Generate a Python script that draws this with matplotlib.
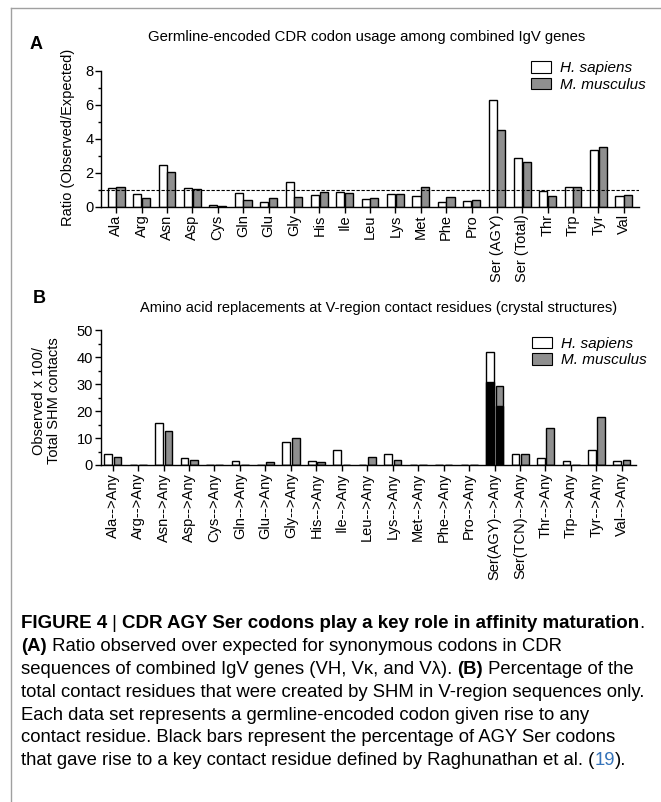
import numpy as np
import matplotlib
matplotlib.use('Agg')
import matplotlib.pyplot as plt
from matplotlib.patches import Patch
from matplotlib.lines import Line2D
from matplotlib.ticker import MultipleLocator

plt.rcParams['font.family'] = ['Liberation Sans', 'DejaVu Sans']

# ---- data, panel A ----
codons_a = ['Ala', 'Arg', 'Asn', 'Asp', 'Cys', 'Gln', 'Glu', 'Gly', 'His', 'Ile',
            'Leu', 'Lys', 'Met', 'Phe', 'Pro', 'Ser (AGY)', 'Ser (Total)', 'Thr',
            'Trp', 'Tyr', 'Val']
ratio_human = [1.10, 0.76, 2.43, 1.08, 0.07, 0.83, 0.25, 1.43, 0.68, 0.87,
               0.47, 0.73, 0.65, 0.27, 0.35, 6.28, 2.88, 0.90, 1.18, 3.35, 0.65]
ratio_mouse = [1.15, 0.49, 2.04, 1.05, 0.05, 0.37, 0.49, 0.55, 0.85, 0.80,
               0.53, 0.73, 1.18, 0.58, 0.42, 4.53, 2.63, 0.62, 1.18, 3.49, 0.68]

# ---- data, panel B ----
codons_b = ['Ala-->Any', 'Arg-->Any', 'Asn-->Any', 'Asp-->Any', 'Cys-->Any',
            'Gln-->Any', 'Glu-->Any', 'Gly-->Any', 'His-->Any', 'Ile-->Any',
            'Leu-->Any', 'Lys-->Any', 'Met-->Any', 'Phe-->Any', 'Pro-->Any',
            'Ser(AGY)-->Any', 'Ser(TCN)-->Any', 'Thr-->Any', 'Trp-->Any',
            'Tyr-->Any', 'Val-->Any']
contact_human = [4.1, 0, 15.4, 2.75, 0, 1.4, 0, 8.4, 1.4, 5.5,
                 0, 4.25, 0, 0, 0, 42.0, 4.25, 2.75, 1.4, 5.5, 1.4]
contact_mouse = [2.85, 0, 12.7, 1.9, 0, 0, 1.1, 9.9, 1.0, 0,
                 2.9, 1.9, 0, 0, 0, 29.3, 4.0, 13.75, 0, 17.9, 1.75]
# key contact residues from AGY Ser codons (black bars)
key_human = [0, 0, 0, 0, 0, 0, 0, 0, 0, 0,
             0, 0, 0, 0, 0, 30.7, 0, 0, 0, 0, 0]
key_mouse = [0, 0, 0, 0, 0, 0, 0, 0, 0, 0,
             0, 0, 0, 0, 0, 21.7, 0, 0, 0, 0, 0]

gray = '#8f8f8f'
fig = plt.figure(figsize=(6.61, 8.02), dpi=100)

# frame lines around figure
fig.add_artist(Line2D([0.0166, 0.0166], [0, 0.990], color='#a0a0a0', lw=1.0, transform=fig.transFigure))
fig.add_artist(Line2D([0.0166, 1.0], [0.990, 0.990], color='#a0a0a0', lw=1.0, transform=fig.transFigure))


def style_axes(ax):
    for s in ['top', 'right']:
        ax.spines[s].set_visible(False)
    for s in ['left', 'bottom']:
        ax.spines[s].set_linewidth(1.0)
    ax.tick_params(axis='both', which='major', length=4, width=1.0, labelsize=10.5, pad=1.5)
    ax.tick_params(axis='y', which='minor', length=2.5, width=1.0)
    ax.tick_params(axis='x', which='minor', length=0)


# ---- panel A ----
axA = fig.add_axes([0.1528, 0.7423, 0.814, 0.1696])
x = np.arange(len(codons_a))
w = 0.32
axA.bar(x - 0.17, ratio_human, w, color='white', edgecolor='black', lw=1.0)
axA.bar(x + 0.17, ratio_mouse, w, color=gray, edgecolor='black', lw=1.0)
axA.axhline(1.0, color='black', lw=0.8, ls=(0, (3, 1.5)))
axA.set_xlim(-0.6, 20.6)
axA.set_ylim(0, 8)
axA.yaxis.set_major_locator(MultipleLocator(2))
axA.yaxis.set_minor_locator(MultipleLocator(1))
axA.set_xticks(x)
axA.set_xticklabels(codons_a, rotation=90)
style_axes(axA)
axA.legend(handles=[Patch(facecolor='white', edgecolor='black', lw=0.8),
                    Patch(facecolor=gray, edgecolor='black', lw=0.8)],
           labels=['H. sapiens', 'M. musculus'], loc='upper left',
           bbox_to_anchor=(0.80, 1.07), frameon=False, borderpad=0, borderaxespad=0,
           handlelength=1.3, handleheight=0.8, handletextpad=0.6, labelspacing=0.15,
           prop={'style': 'italic', 'size': 11})

fig.text(0.554, 0.954, 'Germline-encoded CDR codon usage among combined IgV genes',
         ha='center', va='center', fontsize=10.75)
fig.text(0.054, 0.944, 'A', ha='center', va='center', fontsize=13, fontweight='bold')
fig.text(0.103, 1 - 137 / 802, 'Ratio (Observed/Expected)', rotation=90,
         ha='center', va='center', fontsize=10.5)

# ---- panel B ----
axB = fig.add_axes([0.1523, 0.4202, 0.81, 0.1683])
x = np.arange(len(codons_b))
w = 0.30
axB.bar(x - 0.18, contact_human, w, color='white', edgecolor='black', lw=1.0)
axB.bar(x + 0.19, contact_mouse, w, color=gray, edgecolor='black', lw=1.0)
axB.bar(x - 0.18, key_human, w, color='black', edgecolor='black', lw=1.0)
axB.bar(x + 0.19, key_mouse, w, color='black', edgecolor='black', lw=1.0)
axB.set_xlim(-0.47, 20.56)
axB.set_ylim(0, 50)
axB.yaxis.set_major_locator(MultipleLocator(10))
axB.yaxis.set_minor_locator(MultipleLocator(5))
axB.set_xticks(x)
axB.set_xticklabels(codons_b, rotation=90)
style_axes(axB)
axB.legend(handles=[Patch(facecolor='white', edgecolor='black', lw=0.8),
                    Patch(facecolor=gray, edgecolor='black', lw=0.8)],
           labels=['H. sapiens', 'M. musculus'], loc='upper left',
           bbox_to_anchor=(0.805, 0.95), frameon=False, borderpad=0, borderaxespad=0,
           handlelength=1.3, handleheight=0.8, handletextpad=0.6, labelspacing=0.15,
           prop={'style': 'italic', 'size': 11})

fig.text(0.572, 1 - 308 / 802,
         'Amino acid replacements at V-region contact residues (crystal structures)',
         ha='center', va='center', fontsize=10.5)
fig.text(0.059, 1 - 298 / 802, 'B', ha='center', va='center', fontsize=13, fontweight='bold')
fig.text(0.070, 1 - 401 / 802, 'Observed x 100/\nTotal SHM contacts', rotation=90,
         ha='center', va='center', fontsize=10.5, linespacing=1.1)

# ---- caption ----
blue = '#3573b9'
caption = [
    [('FIGURE 4', 'bold', 'black'), (' | ', 'normal', 'black'),
     ('CDR AGY Ser codons play a key role in affinity maturation', 'bold', 'black'),
     ('.', 'normal', 'black')],
    [('(A)', 'bold', 'black'),
     (' Ratio observed over expected for synonymous codons in CDR', 'normal', 'black')],
    [('sequences of combined IgV genes (VH, V\u03ba, and V\u03bb). ', 'normal', 'black'),
     ('(B)', 'bold', 'black'), (' Percentage of the', 'normal', 'black')],
    [('total contact residues that were created by SHM in V-region sequences only.', 'normal', 'black')],
    [('Each data set represents a germline-encoded codon given rise to any', 'normal', 'black')],
    [('contact residue. Black bars represent the percentage of AGY Ser codons', 'normal', 'black')],
    [('that gave rise to a key contact residue defined by Raghunathan et al. (', 'normal', 'black'),
     ('19', 'normal', blue), (').', 'normal', 'black')],
]
fig.canvas.draw()
renderer = fig.canvas.get_renderer()
y0 = 624.0
for i, line in enumerate(caption):
    xpix = 21.0
    ypix = 802 - (y0 + i * 22.8)
    for txt, weight, col in line:
        size = 13.5 if weight == 'bold' and i == 0 else 13.3
        t = fig.text(xpix / 661, ypix / 802, txt, ha='left', va='center',
                     fontsize=size, fontweight=weight, color=col)
        bb = t.get_window_extent(renderer)
        xpix += bb.width

fig.savefig('out.png', dpi=100)
